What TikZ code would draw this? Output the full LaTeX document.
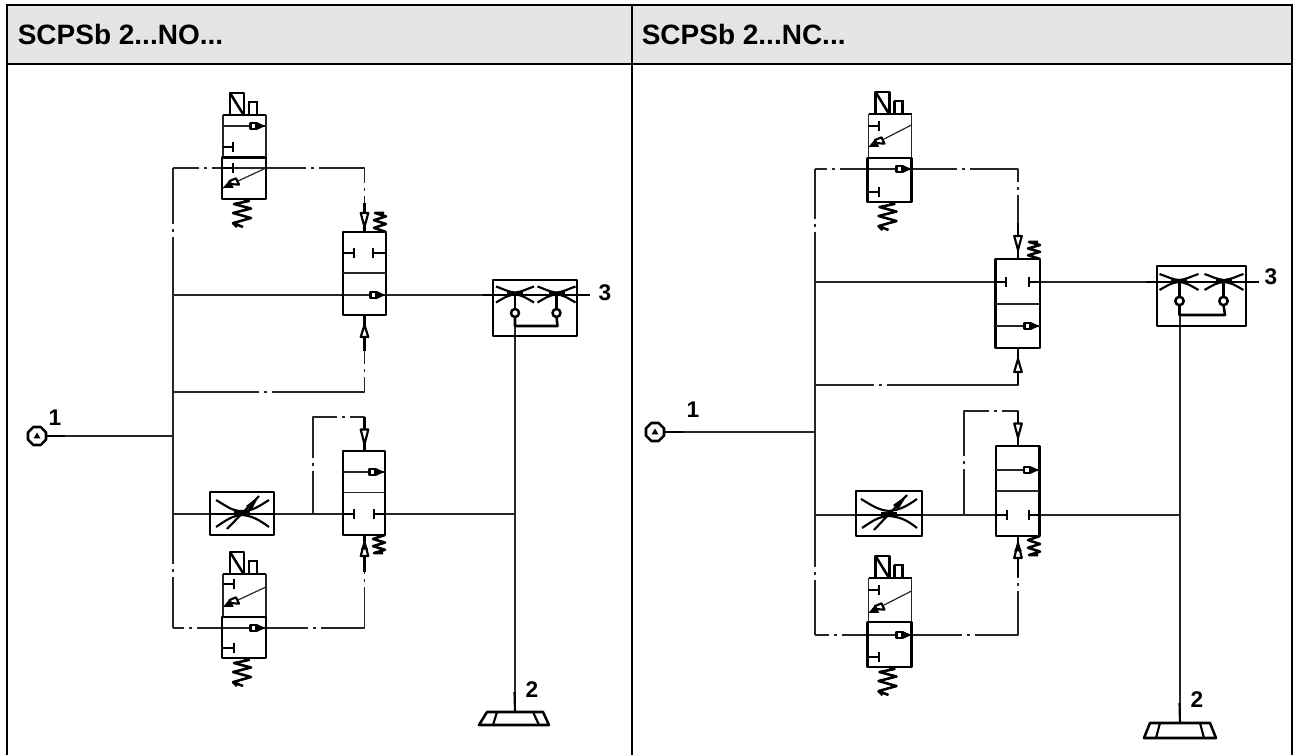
\documentclass[tikz,border=0pt]{standalone}
\usepackage{fontspec}
\setmainfont{Liberation Sans}
\tikzset{
  thin line/.style={line width=.9pt,line join=round,black!85},
  thick line/.style={line width=1.6pt,line join=round,black},
  heavy/.style={line width=1.9pt,line join=round,black},
  tbl/.style={line width=1.6pt,black},
  head/.style={font=\fontsize{21}{25}\bfseries\selectfont,anchor=base west,inner sep=0pt},
  port/.style={font=\fontsize{17}{20}\bfseries\selectfont,inner sep=0pt}
}
% gap in a dash-dot line
\newcommand{\gapH}[2]{\draw[white,line width=2.2pt] (#1-6.5,#2)--(#1-1.5,#2) (#1+1.5,#2)--(#1+6.5,#2);}
\newcommand{\gapV}[2]{\draw[white,line width=2.2pt] (#1,#2-6.5)--(#1,#2-1.5) (#1,#2+1.5)--(#1,#2+6.5);}
% check symbol: line end x, y
\newcommand{\chk}[2]{\draw[thick line,fill=white] (#1-15,#2-3.2) rectangle (#1-9,#2+3.2);
  \fill (#1-9,#2-4)--(#1,#2)--(#1-9,#2+4)--cycle;}
% T stop (#1 start x, #2 bar x, #3 y)
\newcommand{\tstop}[3]{\draw[thick line] (#1,#3)--(#2,#3) (#2,#3-5)--(#2,#3+5);}
% zig-zag spring: x0 x1 y0 h
\newcommand{\vspring}[4]{%
  \draw[heavy] (#2-7,#3) -- (#2-2,#3+2) -- (#1+1,#3+.18*#4) -- (#2,#3+.34*#4) -- (#1,#3+.5*#4) -- (#2,#3+.68*#4) -- (#1,#3+.86*#4) -- (#1+10,#3+#4);
  \draw[heavy] (#1,#3+.86*#4)--(#1+4,#3+#4);}
% small spring: x0 x1 ybot ytop
\newcommand{\sspring}[4]{%
  \draw[heavy] (#2,#3) -- (#1,{#3+(#4-#3)*.22}) -- (#2,{#3+(#4-#3)*.42}) -- (#1,{#3+(#4-#3)*.62}) -- (#2,{#3+(#4-#3)*.82}) -- (#1+1,#4) -- (#2-2,#4);}
% pilot triangles: x, base y, tip y
\newcommand{\ptri}[3]{\draw[thick line,fill=white] (#1-3.8,#2)--(#1+3.8,#2)--(#1,#3)--cycle;}
\newcommand{\ptrib}[3]{\draw[thick line,fill=white] (#1-3.8,#2)--(#1+3.8,#2)--(#1,#3)--cycle;
  \fill (#1-3.8,{#2+(#3-#2)*.45})--(#1+3.8,{#2+(#3-#2)*.45})--(#1,#3)--cycle;}
% nozzle: cx, y, half width
\newcommand{\noz}[3]{%
  \draw[thick line] (#1-#3,#2-7) .. controls (#1-#3*.55,#2-4) and (#1-#3*.35,#2-1.5) .. (#1,#2-1)
    .. controls (#1+#3*.35,#2-1.5) and (#1+#3*.55,#2-4) .. (#1+#3,#2-7);
  \draw[thick line] (#1-#3,#2+9) .. controls (#1-#3*.55,#2+4) and (#1-#3*.35,#2+1.5) .. (#1,#2+1)
    .. controls (#1+#3*.35,#2+1.5) and (#1+#3*.55,#2+4) .. (#1+#3,#2+9);
  \fill (#1-8,#2-1.8) rectangle (#1+8,#2+1.8);}
% octagonal port
\newcommand{\octa}[2]{%
  \draw[heavy,fill=white] (#1-3.7,#2-9)--(#1+3.7,#2-9)--(#1+9,#2-3.7)--(#1+9,#2+3.7)--(#1+3.7,#2+9)--(#1-3.7,#2+9)--(#1-9,#2+3.7)--(#1-9,#2-3.7)--cycle;
  \fill (#1-3.5,#2+2.5)--(#1+3.5,#2+2.5)--(#1,#2-3.5)--cycle;}
% body of solenoid valve: #1 x, #2 y top, #3 y divide, #4 y bottom
\newcommand{\sol}[4]{%
  \draw[thin line] (#1+1,#2)--(#1+1,#3) (#1+44,#2)--(#1+44,#3);
  \draw[thick line] (#1+1,#2)--(#1+44,#2);
  \draw[heavy] (#1,#3) rectangle (#1+44,#4);
  \draw[heavy] (#1+8,#2)--(#1+8,#2-22)--(#1+22,#2-22)--(#1+22,#2);
  \draw[heavy] (#1+8,#2-22)--(#1+21,#2-1);
  \draw[heavy] (#1+27,#2)--(#1+27,#2-13) (#1+26,#2-13)--(#1+36,#2-13) (#1+35,#2-13)--(#1+35,#2);
  \vspring{#1+11}{#1+29}{#4}{28}}
% diagonal flow arrow, #1 x left, #2 y tip, #3 y right end
\newcommand{\diag}[3]{%
  \draw[thin line] (#1+1,#2)--(#1+44,#3);
  \draw[thick line,fill=white] (#1+9,#2-3.9)--(#1+17,#2-3.35)--(#1+14,#2-9.65)--(#1+7.6,#2-7)--cycle;
  \fill (#1+1,#2)--(#1+11.6,#2-.2)--(#1+7.6,#2-8)--cycle;}
\begin{document}
\begin{tikzpicture}[x=.75pt,y=-.75pt]
\useasboundingbox (0,0) rectangle (1293,755);
% ---- table ----
\fill[black!10] (7,5) rectangle (1292,64);
\draw[tbl] (7,755)--(7,5)--(1292,5)--(1292,755);
\draw[tbl] (7,64)--(1292,64);
\draw[tbl] (632,5)--(632,755);
\node[head] (hL) at (17.5,45) {SCPSb 2...NO...};
\node[head] (hR) at (641.5,45) {SCPSb 2...NC...};

% ========== LEFT PANEL ==========
\coordinate (La) at (173,168); \coordinate (Lb) at (173,295); \coordinate (Lc) at (173,392);
\coordinate (Ld) at (173,436); \coordinate (Le) at (173,514); \coordinate (Lf) at (173,628);
\coordinate (Lg) at (364.5,232); \coordinate (Lh) at (364.5,315);
\coordinate (Li) at (364.5,451); \coordinate (Lj) at (364.5,535);
\coordinate (Lk) at (313,514); \coordinate (Ll) at (515,326); \coordinate (Lm) at (515,712);
\coordinate (Ln) at (483,295); \coordinate (Lo) at (590,295);
\coordinate (Lp) at (47,436); \coordinate (Lq) at (515,514); \coordinate (Lr) at (313,417);
\draw[thin line] (La)--(Lf);
\draw[thin line] (La)-|(Lg);
\draw[thin line] (Lb)--(Ln);
\draw[thick line] (Ln)--(Lo);
\draw[thin line] (Lc)-|(Lh);
\draw[thin line] (Lp)--(Ld);
\draw[thin line] (Le)--(343,514) (385,514)--(Lq);
\draw[thin line] (Lk)--(Lr)-|(Li);
\draw[thin line] (Lf)-|(Lj);
\draw[thin line] (Ll)--(Lm);
\draw[thick line] (Lp)--(65,436);
\draw[thick line] (514.5,692)--(Lm);
\gapH{205}{168}\gapH{312}{168}\gapV{173}{231}\gapV{364.5}{190}
\gapH{265}{392}\gapV{364.5}{371}\gapV{173}{570}\gapV{313}{465}\gapH{343}{417}
\gapV{364.5}{580}\gapH{190}{628}\gapH{314}{628}
% port 1
\octa{37}{436}
\node[port] (pL1) at (55,418) {1};
% top valve (type A)
\sol{222}{115}{157.5}{199}
\draw[thin line] (223,126)--(265,126);
\chk{265.5}{126}
\tstop{223}{233}{147}\tstop{222}{233}{168}
\diag{222}{188}{168}
% lower solenoid valve
\sol{222}{574}{617}{658}
\tstop{223}{234}{584}\tstop{222}{234}{648}
\diag{222}{607}{587}
\chk{265.5}{628}
% middle upper valve
\draw[heavy] (343,232) rectangle (386,315);
\draw[thin line] (343,273)--(386,273);
\tstop{343}{354}{253}\tstop{386}{373}{253}
\chk{385.5}{295}
\draw[thick line] (364.5,203)--(364.5,214) (364.5,226)--(364.5,232);
\ptri{364.5}{213}{227}
\sspring{374}{386}{232}{213}
\draw[thick line] (364.5,315)--(364.5,326) (364.5,337)--(364.5,351);
\ptri{364.5}{337}{325}
% middle lower valve
\draw[heavy] (343,451) rectangle (385,535);
\draw[thin line] (343,472)--(385,472) (343,492.5)--(385,492.5);
\chk{384.5}{472}
\tstop{343}{354}{514}\tstop{385}{374}{514}
\draw[thick line] (364.5,417)--(364.5,430) (364.5,444)--(364.5,451);
\ptri{364.5}{429.5}{444.5}
\sspring{373}{385}{535}{553}
\draw[thick line] (364.5,556)--(364.5,572) (364.5,535)--(364.5,542);
\ptrib{364.5}{556}{542}
% throttle
\draw[heavy] (210,492) rectangle (274,535);
\draw[heavy] (210,514)--(274,514);
\draw[thick line] (216,500) .. controls (228,507) and (232,511) .. (242,511) .. controls (252,511) and (258,507) .. (269,500);
\draw[thick line] (216,527) .. controls (228,519) and (232,516) .. (242,515) .. controls (252,516) and (258,519) .. (269,527);
\draw[thick line] (227,529)--(259,496);
\fill (259,496)--(246,506)--(251,511)--cycle;
\fill (234,511.5) rectangle (250,516.5);
% shuttle unit
\draw[heavy] (493,280) rectangle (577,336);
\noz{515}{293.5}{19}\noz{556.5}{293.5}{19}
\draw[heavy] (515,294)--(515,308) (556.5,294)--(556.5,308);
\draw[heavy,fill=white] (515,313) circle (4);
\draw[heavy,fill=white] (556.5,313) circle (4);
\draw[heavy] (515,317)--(515,326)--(557.5,326)--(556.5,317);
\node[port] (pL3) at (605,293) {3};
% exhaust
\draw[heavy] (487,712)--(543,712)--(549,725)--(479,725)--cycle;
\draw[thick line] (497,712)--(493,725) (533,712)--(539,725);
\node[port] (pL2) at (532,690) {2};

% ========== RIGHT PANEL ==========
\coordinate (Ra) at (815,169); \coordinate (Rb) at (815,282); \coordinate (Rc) at (815,385);
\coordinate (Rd) at (815,432); \coordinate (Re) at (815,515); \coordinate (Rf) at (815,635);
\coordinate (Rg) at (1018,259); \coordinate (Rh) at (1018,348);
\coordinate (Ri) at (1018,446); \coordinate (Rj) at (1018,536);
\coordinate (Rk) at (964,515); \coordinate (Rl) at (1180,315); \coordinate (Rm) at (1180,723);
\coordinate (Rn) at (1146,282); \coordinate (Ro) at (1259,282);
\coordinate (Rp) at (665,432); \coordinate (Rq) at (1180,515); \coordinate (Rr) at (964,411);
\draw[thin line] (Ra)--(Rf);
\draw[thin line] (Ra)-|(Rg);
\draw[thin line] (Rb)--(995,282) (1040,282)--(Rn);
\draw[thick line] (Rn)--(Ro);
\draw[thin line] (Rc)-|(Rh);
\draw[thin line] (Rp)--(Rd);
\draw[thin line] (Re)--(996,515) (1039,515)--(Rq);
\draw[thin line] (Rk)--(Rr)-|(Ri);
\draw[thin line] (Rf)-|(Rj);
\draw[thin line] (Rl)--(Rm);
\draw[thick line] (Rp)--(683,432);
\draw[thick line] (1179.5,703)--(Rm);
\gapH{833}{169}\gapH{963}{169}\gapV{815}{226}\gapV{1018}{189}
\gapH{880}{385}\gapV{815}{573}\gapV{964}{463}\gapH{995}{411}
\gapV{1018}{584}\gapH{835}{635}\gapH{968}{635}
% port 1
\octa{655}{432}
\node[port] (pR1) at (693,410) {1};
% top valve
\sol{867.5}{114}{158}{202}
\tstop{868}{879}{126}
\diag{867.5}{147}{125}
\chk{911.5}{169}
\tstop{868}{879}{192}
% lower solenoid valve
\sol{867.5}{578}{622}{667}
\tstop{868}{879}{590}
\diag{867.5}{613}{591}
\chk{911.5}{635}
\tstop{868}{879}{657}
% middle upper valve
\draw[heavy] (995.5,259) rectangle (1040,348);
\draw[thin line] (996,304)--(1040,304) (996,326)--(1040,326);
\tstop{995.5}{1006}{282}\tstop{1040}{1029}{282}
\chk{1039.5}{326}
\draw[thick line] (1018,223)--(1018,236) (1018,250)--(1018,259);
\ptri{1018}{236}{250}
\sspring{1028}{1040}{259}{242}
\draw[thick line] (1018,348)--(1018,360) (1018,372)--(1018,385);
\ptri{1018}{372}{359}
% middle lower valve
\draw[heavy] (996,446) rectangle (1039.5,536);
\draw[thin line] (996,470)--(1039,470) (996,491)--(1039,491);
\chk{1039}{470}
\tstop{996}{1007}{515}\tstop{1039.5}{1029}{515}
\draw[thick line] (1018,411)--(1018,424) (1018,437)--(1018,446);
\ptri{1018}{423.5}{437.5}
\sspring{1028}{1040}{536}{555}
\draw[thick line] (1018,536)--(1018,543) (1018,558)--(1018,577);
\ptrib{1018}{558}{543}
% throttle
\draw[heavy] (856,491) rectangle (922,536);
\draw[heavy] (856,515)--(922,515);
\draw[thick line] (861,499) .. controls (873,506) and (878,510) .. (889,511) .. controls (900,510) and (907,506) .. (917,499);
\draw[thick line] (862,528) .. controls (874,520) and (878,517) .. (889,516) .. controls (900,517) and (907,520) .. (917,528);
\draw[thick line] (874,530)--(907,495);
\fill (907,495)--(893,505)--(898,510)--cycle;
\fill (881,512.5) rectangle (897,517.5);
% shuttle unit
\draw[heavy] (1157,266) rectangle (1246,326);
\noz{1179}{281}{19.5}\noz{1224}{281}{19.5}
\draw[heavy] (1179.5,281)--(1179.5,296) (1223.5,281)--(1223.5,296);
\draw[heavy,fill=white] (1179.5,301) circle (4.2);
\draw[heavy,fill=white] (1223.5,301) circle (4.2);
\draw[heavy] (1179.5,305)--(1179.5,315)--(1225,315)--(1223.5,305);
\node[port] (pR3) at (1271,277) {3};
% exhaust
\draw[heavy] (1150,723)--(1210,723)--(1216,738)--(1144,738)--cycle;
\draw[thick line] (1160,723)--(1156,738) (1200,723)--(1204,738);
\node[port] (pR2) at (1197,700) {2};
\end{tikzpicture}
\end{document}
